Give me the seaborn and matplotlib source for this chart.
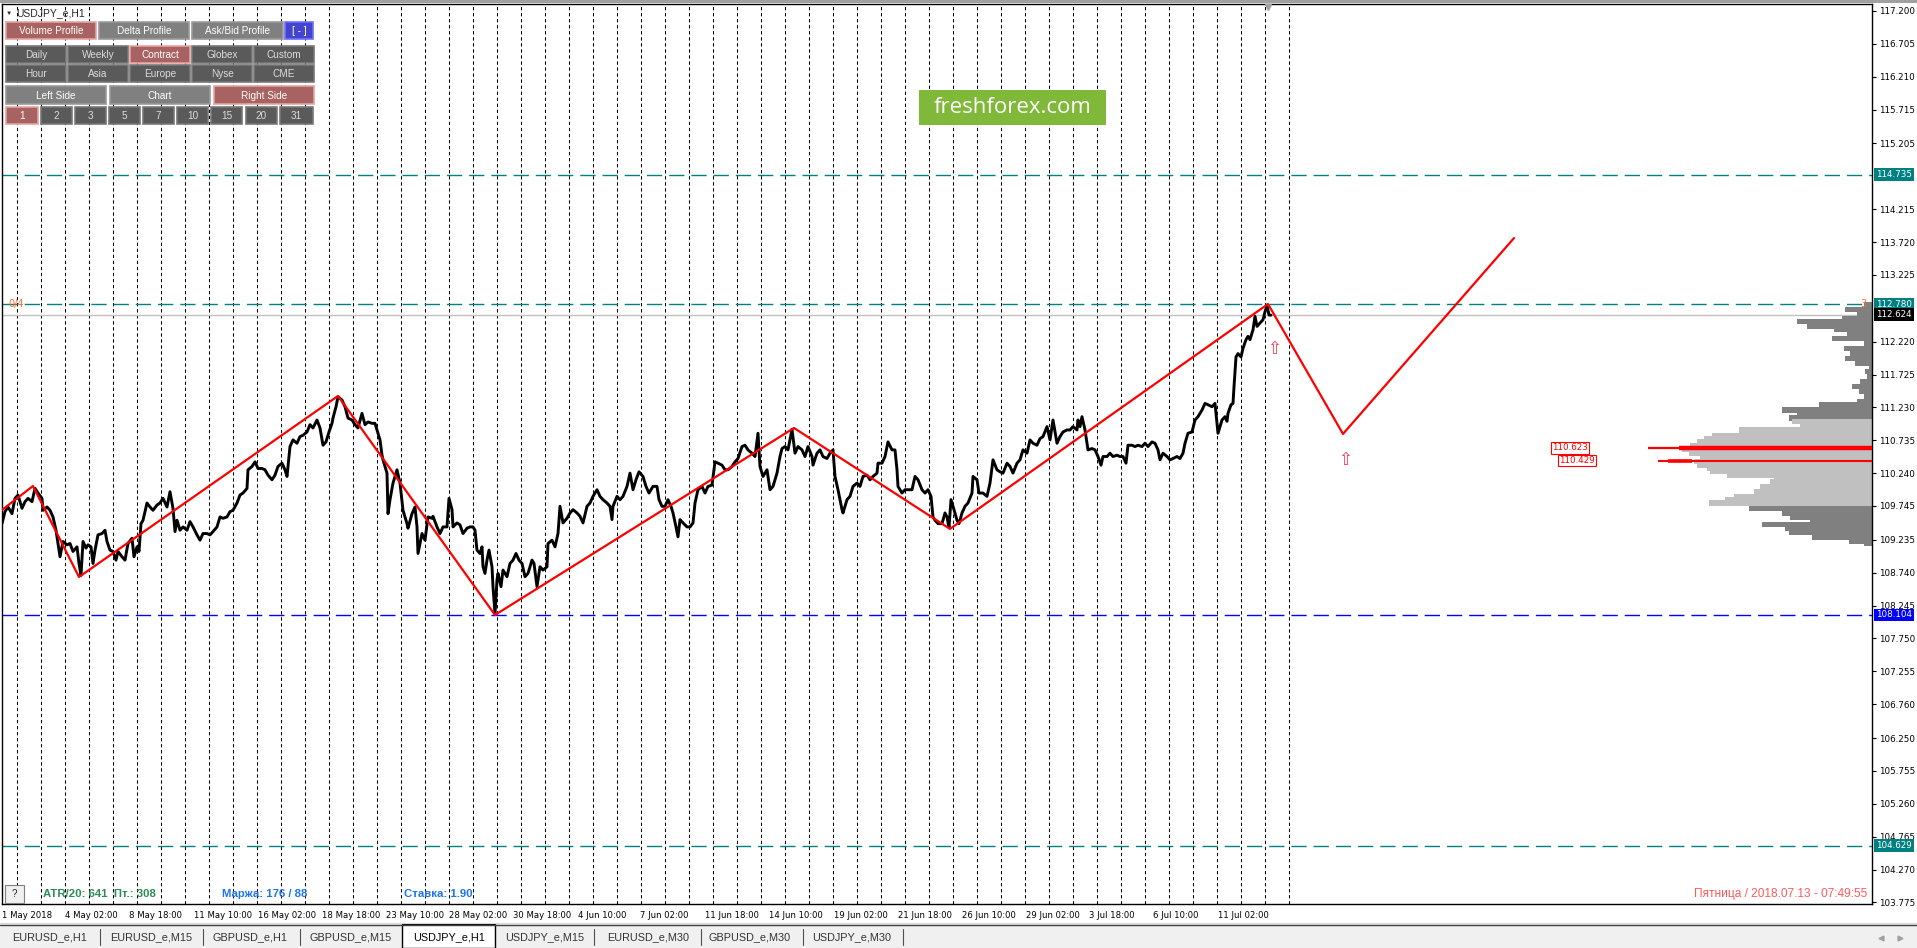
import matplotlib
matplotlib.use('Agg')
import matplotlib.pyplot as plt
import seaborn as sns
from matplotlib.patches import Rectangle

sns.set_style('white')
plt.rcParams['font.family'] = ['DejaVu Sans']

W, H = 1917, 948

# H1 bar index (hours since 1 May 2018) and price
price_bar = [0, 3, 6, 10, 13, 16, 20, 23, 26, 30, 33, 36, 40, 41, 45, 48, 51, 54, 56, 58,
             61, 65, 68, 71, 75, 77, 79, 81, 84, 86, 89, 91, 93, 96, 100, 103, 105, 108, 111, 114,
             116, 120, 123, 126, 130, 132, 135, 137, 139, 141, 145, 148, 151, 155, 158, 161, 165, 168, 171, 173,
             175, 178, 181, 185, 188, 191, 195, 198, 201, 205, 208, 211, 215, 218, 221, 225, 228, 231, 235, 238,
             241, 245, 246, 250, 253, 256, 260, 263, 266, 270, 273, 276, 280, 283, 285, 288, 291, 295, 298, 301,
             305, 308, 311, 315, 318, 321, 324, 327, 330, 331, 334, 336, 340, 343, 346, 350, 353, 356, 360, 363,
             366, 370, 373, 376, 378, 380, 381, 385, 386, 388, 391, 395, 398, 401, 405, 406, 410, 413, 415, 416,
             420, 423, 426, 430,
             431, 435, 438, 441, 445, 447, 450, 451, 455, 458, 461, 465, 468, 471, 473, 475, 478, 480, 481, 483,
             485, 487, 490, 491, 493, 495, 496, 499, 501, 505, 508, 511, 514, 517, 520, 523, 526, 530, 532, 535,
             538, 541, 545, 546, 550, 553, 556, 558, 561, 565, 568, 571, 575, 578, 581, 585, 588, 591, 595, 598,
             601, 605, 608, 610, 611, 615, 618, 621, 625, 628, 631, 634, 637, 641, 644, 647, 651, 655, 657, 660,
             663, 666, 669, 671, 674, 676, 678, 681, 685, 688, 691, 693, 696, 700, 703, 706, 710, 713, 716, 720,
             723, 726, 730, 733, 736, 740, 743, 746, 750, 753, 756, 758, 761, 765, 768, 771, 775, 778, 780, 783,
             786, 790, 793, 796, 800, 803, 806, 810, 811, 815, 818, 821, 825, 828, 831, 833, 836, 840, 841, 845,
             848, 851, 855, 858, 861,
             865, 868, 871, 875, 876, 880, 883, 886, 890, 893, 895, 896, 900, 903, 906, 910, 913, 916, 920, 923,
             926, 929, 931, 933, 936, 940, 943, 945, 947, 949, 952, 955, 957, 960, 963, 966, 970, 971, 975, 977,
             981, 985, 988, 991, 995, 998, 1001, 1005, 1008, 1011, 1015, 1018, 1021, 1025, 1028, 1031, 1035, 1038, 1041, 1045,
             1048, 1051, 1055, 1058, 1061, 1065, 1068, 1071, 1075, 1076, 1078, 1080, 1083, 1086, 1090, 1093, 1096, 1099, 1101, 1105,
             1108, 1111, 1115, 1118, 1121, 1124, 1126, 1130, 1133, 1136, 1140, 1143, 1146, 1150, 1153, 1156, 1158, 1161, 1165, 1168,
             1171, 1175, 1178, 1181, 1183, 1186, 1190, 1193, 1196, 1200, 1203, 1206, 1210, 1213, 1215, 1216, 1220, 1223, 1225, 1226,
             1229, 1231, 1232, 1234, 1236, 1239, 1241, 1244, 1246, 1248, 1251, 1253, 1255, 1258, 1261, 1263, 1265, 1267, 1269]
price_val = [109.48, 109.66, 109.73, 109.63, 109.86, 109.91, 109.71, 109.81, 109.86, 109.81, 110.01, 109.94, 109.86, 109.68, 109.73, 109.68, 109.58, 109.38, 109.18, 108.98,
             109.21, 109.16, 109.18, 109.06, 109.13, 108.88, 108.70, 109.21, 109.11, 109.16, 109.13, 108.88, 109.08, 109.31, 109.33, 109.38, 109.21, 109.08, 109.06, 108.93,
             109.06, 108.98, 108.93, 109.18, 109.26, 108.98, 109.13, 109.06, 109.48, 109.53, 109.79, 109.73, 109.68, 109.76, 109.79, 109.86, 109.73, 109.96, 109.71, 109.36,
             109.53, 109.38, 109.43, 109.38, 109.51, 109.43, 109.31, 109.23, 109.33, 109.33, 109.31, 109.36, 109.43, 109.58, 109.56, 109.58, 109.66, 109.68, 109.79, 109.91,
             109.94, 110.01, 110.29, 110.34, 110.41, 110.31, 110.31, 110.29, 110.21, 110.14, 110.21, 110.34, 110.39, 110.29, 110.19, 110.64, 110.74, 110.69, 110.79, 110.81,
             110.86, 110.97, 110.92, 111.04, 110.92, 110.66, 110.71, 110.86, 110.99, 111.07, 111.24, 111.39, 111.34, 111.24, 111.07, 111.04, 110.97, 110.92, 111.14, 110.97,
             111.01, 110.99, 110.99, 110.84, 110.74, 110.51, 110.44, 110.24, 109.63, 109.84, 110.09, 110.29, 110.09, 109.68, 109.48, 109.41, 109.63, 109.73, 109.43, 109.03,
             109.33, 109.23, 109.58, 109.56,
             109.59, 109.43, 109.33, 109.43, 109.43, 109.86, 109.69, 109.43, 109.49, 109.46, 109.33, 109.41, 109.43, 109.43, 109.38, 109.08, 109.03, 109.13, 108.83, 108.73,
             108.93, 109.08, 108.83, 108.53, 108.12, 108.63, 108.73, 108.53, 108.78, 108.68, 108.88, 108.93, 109.03, 108.93, 108.88, 108.68, 108.73, 108.93, 108.88, 108.53,
             108.83, 108.78, 108.83, 109.18, 109.23, 109.13, 109.33, 109.74, 109.49, 109.56, 109.64, 109.69, 109.64, 109.59, 109.49, 109.74, 109.79, 109.89, 109.99, 109.89,
             109.84, 109.79, 109.74, 109.54, 109.74, 109.89, 109.84, 109.89, 110.04, 110.24, 109.99, 110.14, 110.26, 110.19, 110.04, 109.94, 110.04, 110.04, 109.84, 109.74,
             109.74, 109.84, 109.74, 109.64, 109.43, 109.28, 109.54, 109.49, 109.43, 109.43, 109.49, 109.79, 109.99, 110.04, 109.94, 110.04, 110.06, 110.41, 110.39, 110.36,
             110.29, 110.29, 110.34, 110.41, 110.46, 110.64, 110.66, 110.59, 110.54, 110.49, 110.84, 110.34, 110.19, 110.29, 109.99, 110.04, 110.24, 110.49, 110.61, 110.64,
             110.59, 110.90, 110.54, 110.64, 110.59, 110.49, 110.64, 110.49, 110.36, 110.54, 110.59, 110.49, 110.46, 110.54, 110.59, 110.19, 109.99, 109.69, 109.64, 109.84,
             109.89, 110.04, 110.09, 110.04, 110.19,
             110.21, 110.14, 110.19, 110.24, 110.39, 110.39, 110.49, 110.71, 110.59, 110.59, 110.29, 110.04, 109.94, 109.99, 109.99, 109.99, 110.19, 110.14, 109.99, 109.94,
             109.99, 109.89, 109.58, 109.53, 109.48, 109.48, 109.64, 109.58, 109.42, 109.84, 109.69, 109.53, 109.48, 109.64, 109.74, 109.79, 109.94, 110.19, 110.14, 109.94,
             109.94, 109.89, 110.09, 110.44, 110.29, 110.26, 110.24, 110.39, 110.34, 110.24, 110.39, 110.44, 110.59, 110.54, 110.74, 110.69, 110.66, 110.76, 110.79, 110.94,
             110.74, 111.04, 110.69, 110.79, 110.86, 110.89, 110.89, 110.94, 110.89, 111.04, 110.94, 111.09, 110.89, 110.59, 110.61, 110.59, 110.49, 110.36, 110.49, 110.49,
             110.54, 110.49, 110.51, 110.49, 110.49, 110.39, 110.66, 110.66, 110.64, 110.66, 110.64, 110.69, 110.64, 110.71, 110.69, 110.59, 110.44, 110.54, 110.49, 110.44,
             110.46, 110.49, 110.46, 110.54, 110.69, 110.84, 110.86, 111.04, 111.09, 111.19, 111.29, 111.27, 111.24, 111.29, 110.99, 110.84, 111.04, 111.09, 111.02, 111.14,
             111.27, 111.29, 111.54, 111.99, 112.04, 111.99, 112.12, 112.25, 112.30, 112.25, 112.40, 112.60, 112.45, 112.50, 112.55, 112.67, 112.77, 112.62, 112.62]

# zigzag swing points plus the projected path
zz_bar = [0, 31, 77, 336, 493, 792, 948, 1266, 1341, 1512]
zz_val = [109.685, 110.046, 108.676, 111.402, 108.104, 110.920, 109.400, 112.787, 110.830, 113.780]

# volume profile (right side)
prof_price = [112.77, 112.70, 112.62, 112.57, 112.52, 112.45, 112.40, 112.32, 112.27, 112.20,
              112.12, 112.04, 111.97, 111.89, 111.84, 111.77, 111.69, 111.62, 111.54, 111.47,
              111.39, 111.32, 111.27, 111.19, 111.14, 111.07, 111.02, 110.94, 110.89, 110.81,
              110.76, 110.71, 110.66, 110.60, 110.54, 110.49, 110.41, 110.36, 110.31, 110.26,
              110.21, 110.16, 110.11, 110.04, 109.96, 109.89, 109.84, 109.79, 109.71, 109.64,
              109.58, 109.53, 109.47, 109.41, 109.35, 109.28, 109.22, 109.18]
prof_vol = [8, 27, 15, 30, 75, 65, 38, 25, 40, 8,
            28, 22, 27, 17, 3, 7, 5, 12, 20, 13,
            8, 15, 53, 90, 75, 83, 80, 72, 133, 160,
            168, 175, 182, 190, 183, 172, 178, 175, 165, 162,
            145, 98, 102, 112, 118, 138, 147, 163, 123, 90,
            82, 62, 110, 87, 83, 60, 23, 8]
va_low, va_high = 109.75, 111.02
poc_hi, poc_lo = 110.623, 110.429

lvl_teal = [114.735, 112.780, 104.629]
lvl_blue = 108.104
lvl_bid = 112.624

axis_ticks = [117.200, 116.705, 116.210, 115.715, 115.205, 114.215, 113.720, 113.225,
              112.220, 111.725, 111.230, 110.735, 110.240, 109.745, 109.235, 108.740,
              108.245, 107.750, 107.255, 106.760, 106.250, 105.755, 105.260, 104.765,
              104.270, 103.775]

date_bars = [0, 63, 127, 192, 256, 320, 384, 447, 511, 576,
             638, 703, 767, 832, 896, 960, 1024, 1087, 1151, 1216]
date_labels = ['1 May 2018', '4 May 02:00', '8 May 18:00', '11 May 10:00', '16 May 02:00',
               '18 May 18:00', '23 May 10:00', '28 May 02:00', '30 May 18:00', '4 Jun 10:00',
               '7 Jun 02:00', '11 Jun 18:00', '14 Jun 10:00', '19 Jun 02:00', '21 Jun 18:00',
               '26 Jun 10:00', '29 Jun 02:00', '3 Jul 18:00', '6 Jul 10:00', '11 Jul 02:00']
n_days = 54

tabs = ['EURUSD_e,H1', 'EURUSD_e,M15', 'GBPUSD_e,H1', 'GBPUSD_e,M15', 'USDJPY_e,H1',
        'USDJPY_e,M15', 'EURUSD_e,M30', 'GBPUSD_e,M30', 'USDJPY_e,M30']

TEAL = '#008080'
fig = plt.figure(figsize=(W / 100, H / 100), dpi=100)
fig.patch.set_facecolor('white')
ax = fig.add_axes([2 / W, 1 - 904 / H, 1870 / W, 900 / H])
ax.set_xlim(0, 1870)
ax.set_ylim(103.751, 117.305)

# day separators
for k in range(n_days):
    ax.axvline(14.7 + 24 * k, color='black', lw=0.75, ls=(0, (3.2, 2.6)), zorder=1)

# horizontal levels
for v in lvl_teal:
    ax.axhline(v, color=TEAL, lw=1.0, ls=(0, (11, 5)), zorder=1.5)
ax.axhline(lvl_blue, color='#0000ff', lw=1.0, ls=(0, (11, 5)), zorder=1.5)
ax.axhline(lvl_bid, color='#c0c0c0', lw=1.0, zorder=1.5)

# volume profile
prof_colors = ['#c0c0c0' if va_low <= p <= va_high else '#808080' for p in prof_price]
ax.barh(prof_price, prof_vol, left=[1870 - v for v in prof_vol], height=0.08,
        color=prof_colors, lw=0, zorder=2)
ax.hlines(poc_hi, 1646, 1677, color='red', lw=1.6, zorder=3)
ax.hlines(poc_hi, 1677, 1870, color='red', lw=3.2, zorder=3)
ax.hlines(poc_lo, 1656, 1870, color='red', lw=1.5, zorder=3)
ax.hlines(poc_lo, 1666, 1690, color='red', lw=2.6, zorder=3)
for v, xc in [(poc_hi, 1568), (poc_lo, 1575)]:
    ax.text(xc, v, f'{v:.3f}', fontsize=6.3, color='red', ha='center', va='center', zorder=6,
            bbox=dict(boxstyle='square,pad=0.15', fc='white', ec='red', lw=0.8))

# price and zigzag
sns.lineplot(x=price_bar, y=price_val, sort=False, estimator=None, color='black',
             lw=2.1, ax=ax, zorder=3)
sns.lineplot(x=zz_bar, y=zz_val, sort=False, estimator=None, color='#ff0000',
             lw=1.6, ax=ax, zorder=4)
for b, p in [(1272, 112.11), (1343, 110.44)]:
    ax.text(b, p, '\u21e7', fontsize=12, color='#ff3355', ha='center', va='center', zorder=5)

ax.text(6, 112.78, '0/4', fontsize=7, color='#ff6a30', ha='left', va='center', zorder=5)
ax.text(1861, 112.78, '3', fontsize=7, color='#ff6a30', ha='center', va='center', zorder=5)

# logo
ax.add_patch(Rectangle((917, 115.483), 187, 0.527, fc='#80b83a', ec='none', zorder=6))
ax.text(1010.5, 115.75, 'freshforex.com', family=['Open Sans', 'DejaVu Sans'], fontsize=16,
        color='white', ha='center', va='center', zorder=7)

# axes styling
for s in ax.spines.values():
    s.set_color('black')
    s.set_linewidth(1.0)
ax.yaxis.tick_right()
ax.set_yticks(axis_ticks)
ax.set_yticklabels([f'{t:.3f}' for t in axis_ticks])
ax.tick_params(axis='y', direction='out', length=3, width=0.8, labelsize=6.3, pad=2, colors='black')
ax.set_xticks(date_bars)
ax.set_xticklabels(date_labels)
ax.tick_params(axis='x', direction='out', length=3, width=0.8, labelsize=6.1, pad=2, colors='black')
for lbl in ax.get_xticklabels():
    lbl.set_ha('left')
ax.set_xlabel('')
ax.set_ylabel('')

# value boxes on the price scale
tr = ax.get_yaxis_transform()
for v, fc in [(lvl_teal[0], TEAL), (lvl_teal[1], TEAL), (lvl_bid, 'black'),
              (lvl_blue, '#0000ff'), (lvl_teal[2], TEAL)]:
    ax.annotate(f'{v:.3f}', xy=(1, v), xycoords=tr, xytext=(3, 0), textcoords='offset points',
                ha='left', va='center', fontsize=6.3, color='white', annotation_clip=False,
                bbox=dict(boxstyle='square,pad=0.22', fc=fc, ec='none'), zorder=10)

# ---- terminal chrome in pixel coordinates ----
ov = fig.add_axes([0, 0, 1, 1], zorder=5)
ov.set_xlim(0, W)
ov.set_ylim(H, 0)
ov.axis('off')
ov.patch.set_alpha(0)
UI = ['Liberation Sans', 'DejaVu Sans']

ov.add_patch(Rectangle((0, 0), W, 3, fc='#a0a0a0', ec='none'))
ov.plot([1268], [7], marker='v', color='#a0a0a0', ms=4)
ov.text(9, 13, '\u25bc', fontsize=4.5, ha='center', va='center', family=UI)
ov.text(16, 13, 'USDJPY_e,H1', fontsize=7.5, ha='left', va='center', family=UI)

styles = {'dark': ('#5a5a5a', '#787878', '#dcdcdc'),
          'light': ('#808080', '#9a9a9a', 'white'),
          'sel': ('#a86262', '#e4a4a4', 'white'),
          'blue': ('#4444cc', '#7070ff', 'white')}
buttons = [
    (22, 39, [('Volume Profile', 6, 96, 'sel'), ('Delta Profile', 99, 189, 'light'),
              ('Ask/Bid Profile', 192, 283, 'light'), ('[ - ]', 285, 313, 'blue')]),
    (46, 63, [('Daily', 6, 66, 'dark'), ('Weekly', 68, 128, 'dark'), ('Contract', 130, 190, 'sel'),
              ('Globex', 192, 252, 'dark'), ('Custom', 254, 314, 'dark')]),
    (65, 82, [('Hour', 6, 66, 'dark'), ('Asia', 68, 128, 'dark'), ('Europe', 130, 190, 'dark'),
              ('Nyse', 192, 252, 'dark'), ('CME', 254, 314, 'dark')]),
    (86, 104, [('Left Side', 6, 106, 'light'), ('Chart', 110, 210, 'light'),
               ('Right Side', 214, 314, 'sel')]),
    (107, 124, [('1', 6, 38, 'sel'), ('2', 41, 72, 'dark'), ('3', 75, 106, 'dark'),
                ('5', 109, 140, 'dark'), ('7', 143, 174, 'dark'), ('10', 177, 208, 'dark'),
                ('15', 211, 242, 'dark'), ('20', 246, 277, 'dark'), ('31', 280, 313, 'dark')]),
]
for y0, y1, row in buttons:
    for label, x0, x1, st in row:
        fc, ec, tc = styles[st]
        ov.add_patch(Rectangle((x0, y0), x1 - x0, y1 - y0, fc=fc, ec=ec, lw=1.2))
        ov.text((x0 + x1) / 2, (y0 + y1) / 2 + 0.5, label, fontsize=7.2, color=tc,
                ha='center', va='center', family=UI)

# bottom info line
ov.add_patch(Rectangle((5, 885), 19, 18, fc='#f0f0f0', ec='#808080', lw=0.8))
ov.text(14.5, 894, '?', fontsize=7, ha='center', va='center', family=UI)
ov.text(43, 894, 'ATR/20: 641  Пт.: 308', fontsize=8.2, weight='bold', color='#2e8b57',
        ha='left', va='center', family=UI)
ov.text(222, 894, 'Маржа: 176 / 88', fontsize=8.2, weight='bold', color='#1e74ee',
        ha='left', va='center', family=UI)
ov.text(404, 894, 'Ставка: 1.90', fontsize=8.2, weight='bold', color='#1e74ee',
        ha='left', va='center', family=UI)
ov.text(1867, 894, 'Пятница / 2018.07.13 - 07:49:55', fontsize=8.6, color='#ff5a5a',
        ha='right', va='center', family=UI)

# tab bar
ov.add_patch(Rectangle((0, 923), W, 25, fc='#f0f0f0', ec='none'))
ov.plot([0, W], [922.5, 922.5], color='#d8d8d8', lw=0.8)
ov.plot([0, W], [924.5, 924.5], color='#404040', lw=1.0)
ov.add_patch(Rectangle((402, 924), 93, 24, fc='white', ec='black', lw=1.0))
tab_centers = [50, 151, 250, 351, 449, 545, 648, 750, 852]
for t, xc in zip(tabs, tab_centers):
    ov.text(xc, 937, t, fontsize=7.8, color='black' if t == 'USDJPY_e,H1' else '#333333',
            ha='center', va='center', family=UI)
for xs in [100, 203, 300, 594, 701, 803, 903]:
    ov.plot([xs, xs], [929, 945], color='#505050', lw=0.8)
ov.plot([1881], [938], marker='<', color='#a0a0a0', ms=3.5)
ov.plot([1900], [938], marker='>', color='#a0a0a0', ms=3.5)

fig.savefig('out.png', dpi=100, facecolor='white')
